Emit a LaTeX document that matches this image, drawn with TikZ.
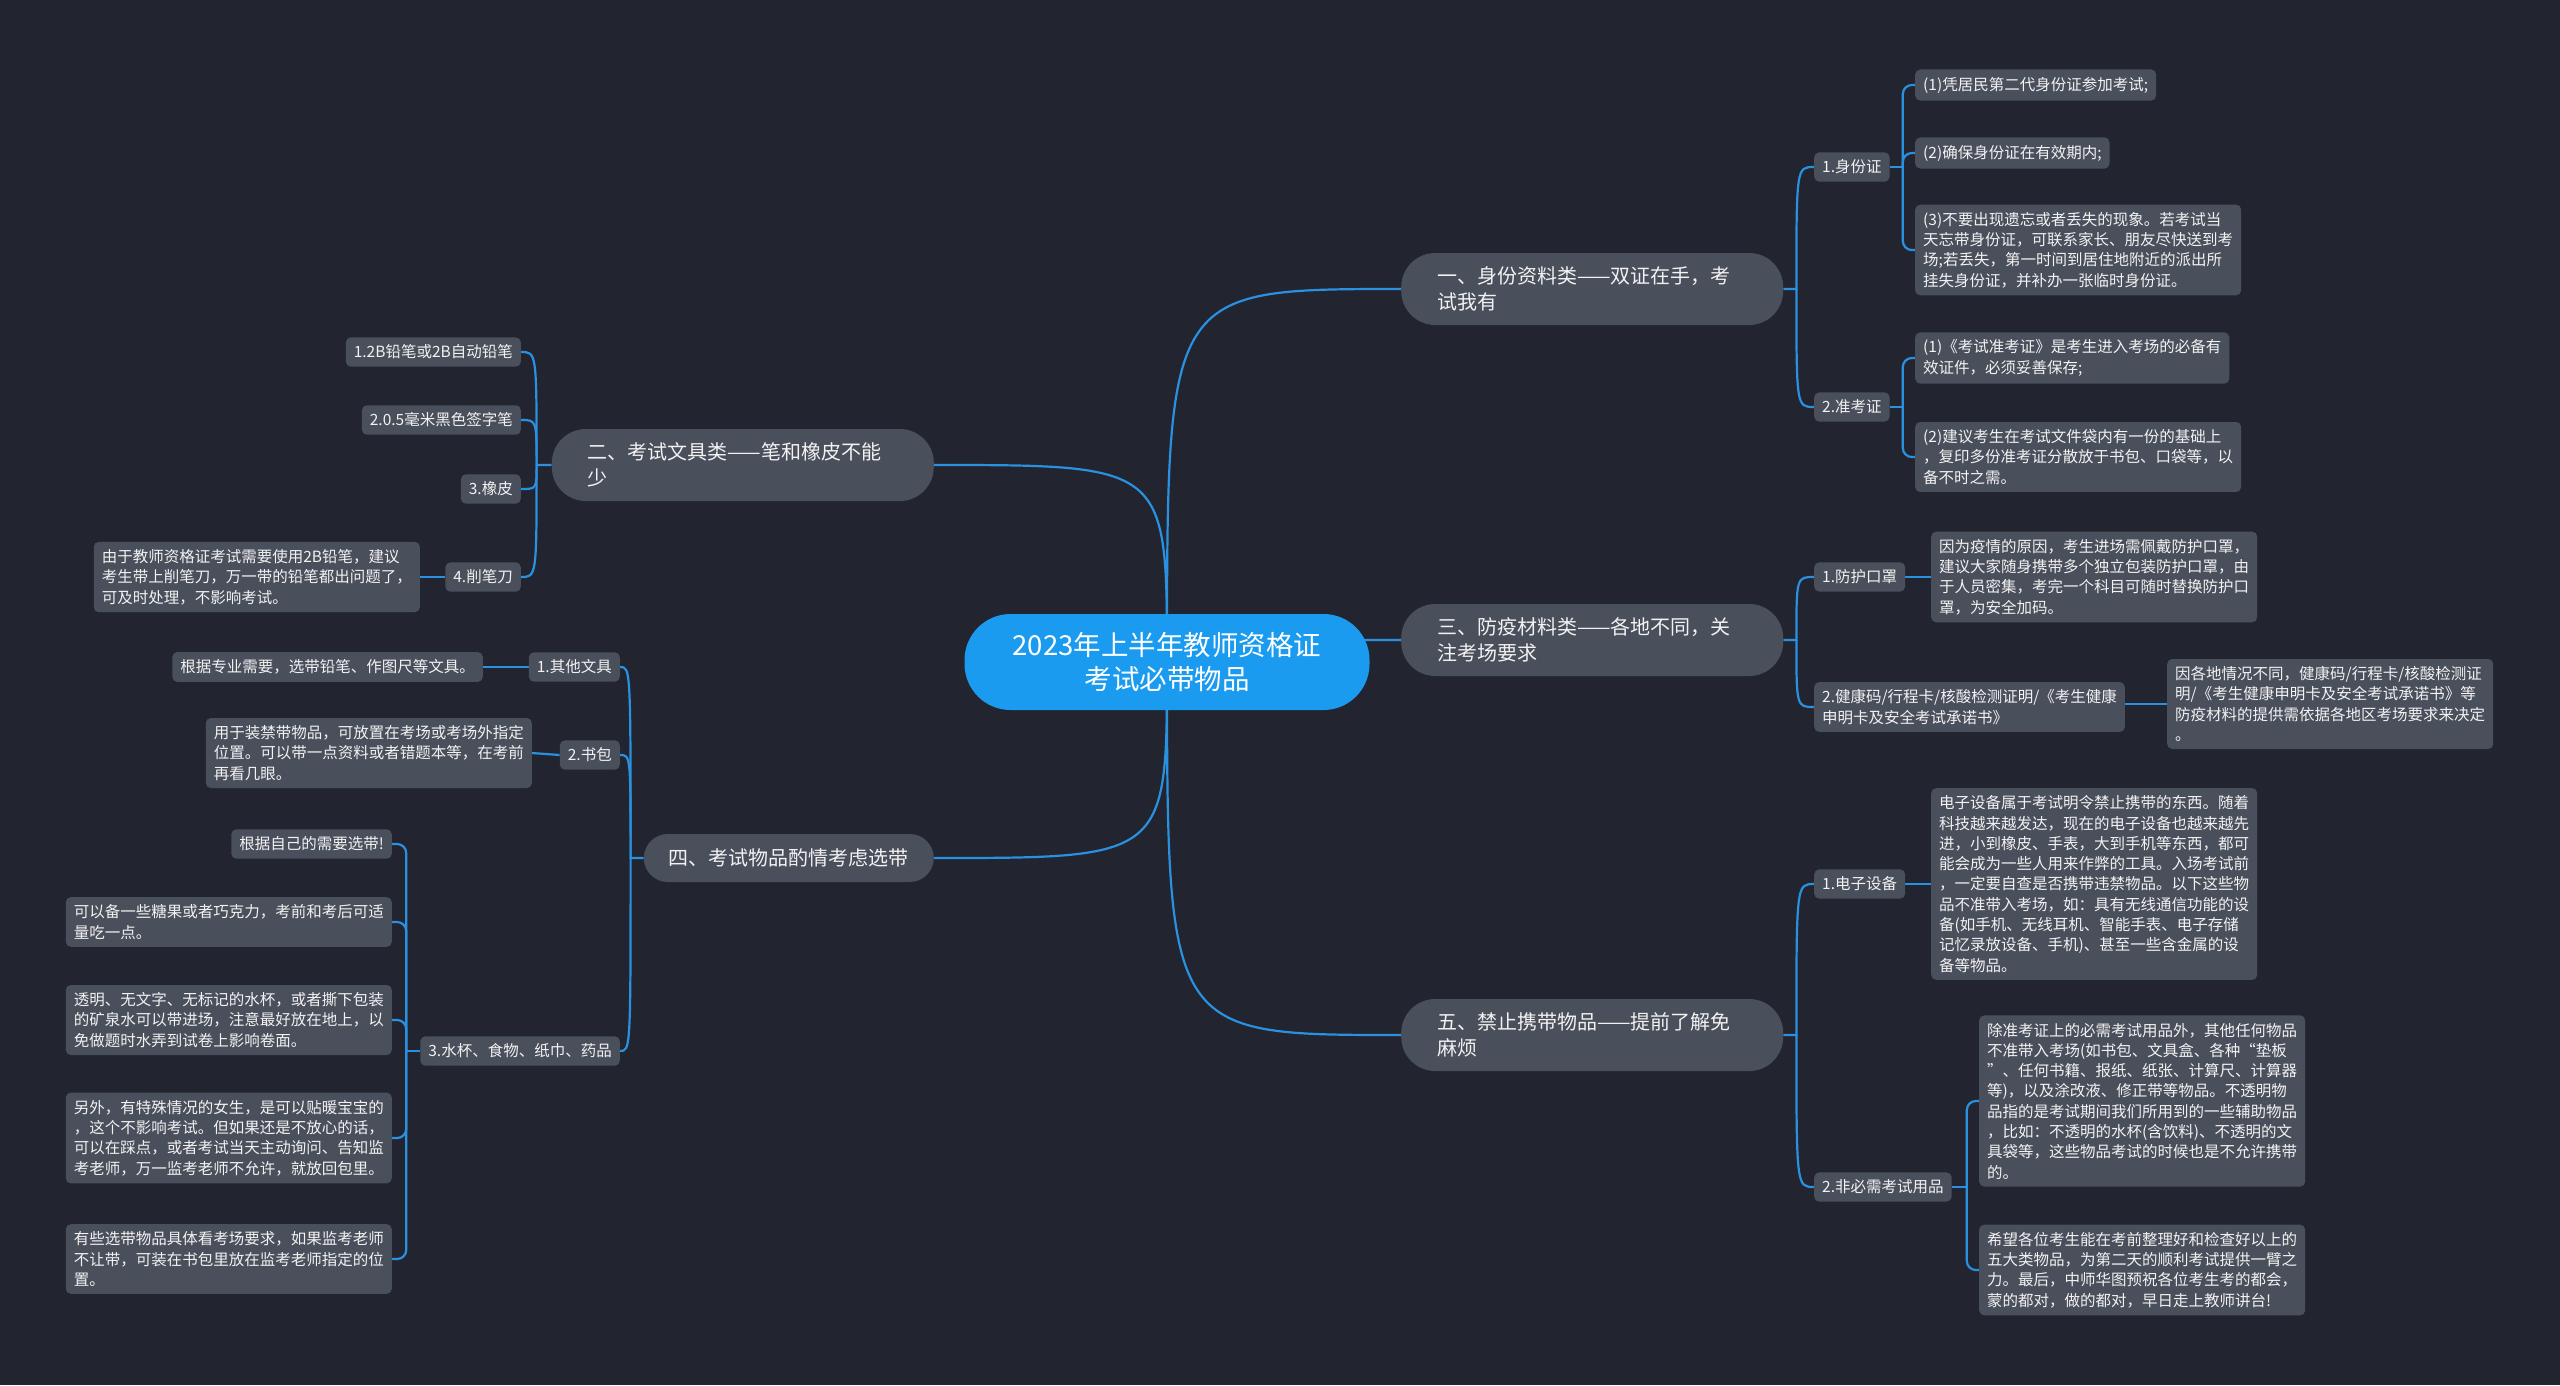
\documentclass[tikz,border=0pt]{standalone}
\usepackage{fontspec}
\setmainfont{Noto Sans CJK SC}
\usetikzlibrary{calc}
\definecolor{bgc}{HTML}{22252F}
\definecolor{nodec}{HTML}{4A4F5C}
\definecolor{linec}{HTML}{2A90E0}
\definecolor{centerc}{HTML}{1A9BF0}
\definecolor{txt}{HTML}{F2F2F2}
\pgfdeclarelayer{bgl}
\pgfdeclarelayer{lines}
\pgfsetlayers{bgl,lines,main}
\tikzset{
  sub/.style={fill=nodec, rounded corners=5pt, text=txt, font=\fontsize{15.5}{20.3}\selectfont, inner xsep=8pt, inner ysep=7.5pt, align=left},
  mainn/.style={fill=nodec, rounded corners=34pt, text=txt, font=\fontsize{20}{26}\selectfont, minimum height=72pt, inner xsep=36pt, inner ysep=6pt, text width=310pt, align=left},
  rootn/.style={fill=centerc, rounded corners=46pt, text=white, font=\fontsize{27.5}{34}\selectfont, minimum width=405pt, minimum height=96pt, align=center},
  conn/.style={draw=linec, line width=2.2pt},
  bracket/.style={conn, rounded corners=9pt}
}
\begin{document}
\begin{tikzpicture}[x=1pt,y=-1pt]
\useasboundingbox (0,0) rectangle (2560,1385);
\begin{pgfonlayer}{bgl}
\fill[bgc] (0,0) rectangle (2560,1385);
\end{pgfonlayer}

% root
\node[rootn] (c) at (1167,662) {2023年上半年教师资格证\\考试必带物品};

% main branches
\node[mainn, anchor=west] (n1) at (1401,289) {一、身份资料类——双证在手，考\\试我有};
\node[mainn, anchor=east] (n2) at (934,465) {二、考试文具类——笔和橡皮不能\\少};
\node[mainn, anchor=west] (n3) at (1401,640) {三、防疫材料类——各地不同，关\\注考场要求};
\node[fill=nodec, rounded corners=24pt, text=txt, font=\fontsize{20}{26}\selectfont, minimum height=48pt, inner xsep=25pt, anchor=east] (n4) at (934,858) {四、考试物品酌情考虑选带};
\node[mainn, anchor=west] (n5) at (1401,1035) {五、禁止携带物品——提前了解免\\麻烦};

% branch 1
\node[sub, anchor=west] (a1) at (1814,167) {1.身份证};
\node[sub, anchor=west] (a11) at (1915,85) {(1)凭居民第二代身份证参加考试;};
\node[sub, anchor=west] (a12) at (1915,153) {(2)确保身份证在有效期内;};
\node[sub, anchor=west] (a13) at (1915,250) {(3)不要出现遗忘或者丢失的现象。若考试当\\天忘带身份证，可联系家长、朋友尽快送到考\\场;若丢失，第一时间到居住地附近的派出所\\挂失身份证，并补办一张临时身份证。};
\node[sub, anchor=west] (a2) at (1814,407) {2.准考证};
\node[sub, anchor=west] (a21) at (1915,358) {(1)《考试准考证》是考生进入考场的必备有\\效证件，必须妥善保存;};
\node[sub, anchor=west] (a22) at (1915,457) {(2)建议考生在考试文件袋内有一份的基础上\\，复印多份准考证分散放于书包、口袋等，以\\备不时之需。};

% branch 3
\node[sub, anchor=west] (b1) at (1814,577) {1.防护口罩};
\node[sub, anchor=west] (b11) at (1931,577) {因为疫情的原因，考生进场需佩戴防护口罩，\\建议大家随身携带多个独立包装防护口罩，由\\于人员密集，考完一个科目可随时替换防护口\\罩，为安全加码。};
\node[sub, anchor=west] (b2) at (1814,707) {2.健康码/行程卡/核酸检测证明/《考生健康\\申明卡及安全考试承诺书》};
\node[sub, anchor=west] (b21) at (2167,704) {因各地情况不同，健康码/行程卡/核酸检测证\\明/《考生健康申明卡及安全考试承诺书》等\\防疫材料的提供需依据各地区考场要求来决定\\。};

% branch 5
\node[sub, anchor=west] (d1) at (1814,884) {1.电子设备};
\node[sub, anchor=west] (d11) at (1931,884) {电子设备属于考试明令禁止携带的东西。随着\\科技越来越发达，现在的电子设备也越来越先\\进，小到橡皮、手表，大到手机等东西，都可\\能会成为一些人用来作弊的工具。入场考试前\\，一定要自查是否携带违禁物品。以下这些物\\品不准带入考场，如：具有无线通信功能的设\\备(如手机、无线耳机、智能手表、电子存储\\记忆录放设备、手机)、甚至一些含金属的设\\备等物品。};
\node[sub, anchor=west] (d2) at (1814,1187) {2.非必需考试用品};
\node[sub, anchor=west] (d21) at (1979,1101) {除准考证上的必需考试用品外，其他任何物品\\不准带入考场(如书包、文具盒、各种“垫板\\”、任何书籍、报纸、纸张、计算尺、计算器\\等)，以及涂改液、修正带等物品。不透明物\\品指的是考试期间我们所用到的一些辅助物品\\，比如：不透明的水杯(含饮料)、不透明的文\\具袋等，这些物品考试的时候也是不允许携带\\的。};
\node[sub, anchor=west] (d22) at (1979,1270) {希望各位考生能在考前整理好和检查好以上的\\五大类物品，为第二天的顺利考试提供一臂之\\力。最后，中师华图预祝各位考生考的都会，\\蒙的都对，做的都对，早日走上教师讲台!};

% branch 2
\node[sub, anchor=east] (e1) at (521,352) {1.2B铅笔或2B自动铅笔};
\node[sub, anchor=east] (e2) at (521,420) {2.0.5毫米黑色签字笔};
\node[sub, anchor=east] (e3) at (521,489) {3.橡皮};
\node[sub, anchor=east] (e4) at (521,577) {4.削笔刀};
\node[sub, anchor=east] (e41) at (420,577) {由于教师资格证考试需要使用2B铅笔，建议\\考生带上削笔刀，万一带的铅笔都出问题了，\\可及时处理，不影响考试。};

% branch 4
\node[sub, anchor=east] (f1) at (620,667) {1.其他文具};
\node[sub, anchor=east] (f11) at (483,667) {根据专业需要，选带铅笔、作图尺等文具。};
\node[sub, anchor=east] (f2) at (620,755) {2.书包};
\node[sub, anchor=east] (f21) at (532,753) {用于装禁带物品，可放置在考场或考场外指定\\位置。可以带一点资料或者错题本等，在考前\\再看几眼。};
\node[sub, anchor=east] (f3) at (620,1051) {3.水杯、食物、纸巾、药品};
\node[sub, anchor=east] (f31) at (392,844) {根据自己的需要选带!};
\node[sub, anchor=east] (f32) at (392,922) {可以备一些糖果或者巧克力，考前和考后可适\\量吃一点。};
\node[sub, anchor=east] (f33) at (392,1020) {透明、无文字、无标记的水杯，或者撕下包装\\的矿泉水可以带进场，注意最好放在地上，以\\免做题时水弄到试卷上影响卷面。};
\node[sub, anchor=east] (f34) at (392,1138) {另外，有特殊情况的女生，是可以贴暖宝宝的\\，这个不影响考试。但如果还是不放心的话，\\可以在踩点，或者考试当天主动询问、告知监\\考老师，万一监考老师不允许，就放回包里。};
\node[sub, anchor=east] (f35) at (392,1259) {有些选带物品具体看考场要求，如果监考老师\\不让带，可装在书包里放在监考老师指定的位\\置。};

% junctions
\coordinate (j1) at ($(n1.east)+(13,0)$);
\coordinate (j3) at ($(n3.east)+(13,0)$);
\coordinate (j5) at ($(n5.east)+(13,0)$);
\coordinate (j2) at ($(n2.west)+(-15,0)$);
\coordinate (j4) at ($(n4.west)+(-13,0)$);
\coordinate (ja1) at ($(a1.east)+(13,0)$);
\coordinate (ja2) at ($(a2.east)+(13,0)$);
\coordinate (jd2) at ($(d2.east)+(15,0)$);
\coordinate (jf3) at ($(f3.west)+(-14,0)$);

\begin{pgfonlayer}{lines}
% root to main
\draw[conn] (c.center) .. controls (c.center |- n1.west) .. (n1.west);
\draw[conn] (c.center) .. controls (c.center |- n2.east) .. (n2.east);
\draw[conn] (c.center) .. controls (c.center |- n3.west) .. (n3.west);
\draw[conn] (c.center) .. controls (c.center |- n4.east) .. (n4.east);
\draw[conn] (c.center) .. controls (c.center |- n5.west) .. (n5.west);
% main to first level
\draw[conn] (n1.east) -- (j1) .. controls (j1 |- a1.west) .. (a1.west);
\draw[conn] (j1) .. controls (j1 |- a2.west) .. (a2.west);
\draw[conn] (n3.east) -- (j3) .. controls (j3 |- b1.west) .. (b1.west);
\draw[conn] (j3) .. controls (j3 |- b2.west) .. (b2.west);
\draw[conn] (n5.east) -- (j5) .. controls (j5 |- d1.west) .. (d1.west);
\draw[conn] (j5) .. controls (j5 |- d2.west) .. (d2.west);
\draw[conn] (n2.west) -- (j2) .. controls (j2 |- e1.east) .. (e1.east);
\draw[conn] (j2) .. controls (j2 |- e2.east) .. (e2.east);
\draw[conn] (j2) .. controls (j2 |- e3.east) .. (e3.east);
\draw[conn] (j2) .. controls (j2 |- e4.east) .. (e4.east);
\draw[conn] (n4.west) -- (j4) .. controls (j4 |- f1.east) .. (f1.east);
\draw[conn] (j4) .. controls (j4 |- f2.east) .. (f2.east);
\draw[conn] (j4) .. controls (j4 |- f3.east) .. (f3.east);
% second level
\draw[conn] (a1.east) -- (ja1);
\draw[bracket] (ja1) |- (a11.west);
\draw[bracket] (ja1) |- (a12.west);
\draw[bracket] (ja1) |- (a13.west);
\draw[conn] (a2.east) -- (ja2);
\draw[bracket] (ja2) |- (a21.west);
\draw[bracket] (ja2) |- (a22.west);
\draw[conn] (b1.east) -- (b11.west);
\draw[conn] (b2.east |- b21.west) -- (b21.west);
\draw[conn] (d1.east) -- (d11.west);
\draw[conn] (d2.east) -- (jd2);
\draw[bracket] (jd2) |- (d21.west);
\draw[bracket] (jd2) |- (d22.west);
\draw[conn] (e4.west) -- (e41.east);
\draw[conn] (f1.west) -- (f11.east);
\draw[conn] (f2.west) -- (f21.east);
\draw[conn] (f3.west) -- (jf3);
\draw[bracket] (jf3) |- (f31.east);
\draw[bracket] (jf3) |- (f32.east);
\draw[bracket] (jf3) |- (f33.east);
\draw[bracket] (jf3) |- (f34.east);
\draw[bracket] (jf3) |- (f35.east);
\end{pgfonlayer}
\end{tikzpicture}
\end{document}
